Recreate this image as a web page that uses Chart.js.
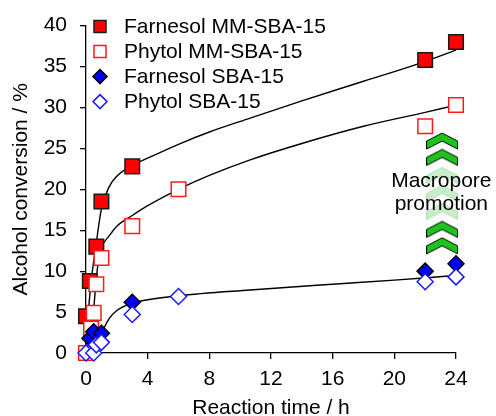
<!DOCTYPE html>
<html lang="en">
<head>
<meta charset="UTF-8">
<title>Alcohol conversion</title>
<script src="https://cdn.jsdelivr.net/npm/chart.js"></script>
<style>html, body { margin: 0; background: #fff; }</style>
</head>
<body>
<canvas id="chart_conv" width="496" height="416"></canvas>
<script>
// measured points: reaction time (h) / conversion (%)
const farnesolMMTime = [0, 0.25, 0.67, 1, 3, 22, 24];
const farnesolMMConv = [4.5, 8.8, 13.0, 18.5, 22.8, 35.8, 38.0];
const phytolMMTime = [0, 0.33, 0.5, 0.67, 1, 3, 6, 22, 24];
const phytolMMConv = [0, 3.0, 4.9, 8.4, 11.6, 15.5, 20.0, 27.7, 30.3];
const farnesolSBATime = [0.25, 0.5, 1, 3, 22, 24];
const farnesolSBAConv = [1.8, 2.6, 2.4, 6.2, 10.0, 10.9];
const phytolSBATime = [0, 0.5, 0.67, 1, 3, 6, 22, 24];
const phytolSBAConv = [0, 0, 1.0, 1.3, 4.7, 6.9, 8.7, 9.3];

// fitted trend lines
const fitMMFarnesolTime = [0, 0.15, 0.35, 0.67, 1, 1.5, 2, 3, 4, 6, 8, 10.65, 14, 18, 21.5, 24];
const fitMMFarnesolConv = [1.0, 5.0, 9.0, 13.5, 17.6, 20.3, 21.6, 22.9, 23.8, 25.5, 27.0, 28.7, 30.8, 33.2, 35.3, 37.0];
const fitMMPhytolTime = [0.4, 0.55, 0.75, 1, 1.5, 2, 3, 4, 6, 8, 10.65, 14, 18, 22, 23.6];
const fitMMPhytolConv = [3.0, 6.5, 10.5, 12.8, 14.3, 15.5, 16.8, 18.0, 20.0, 21.7, 23.6, 25.6, 27.7, 29.4, 30.1];
const fitSBATime = [0.7, 1, 1.5, 2, 3, 4, 6, 10.65, 16, 20, 23.5];
const fitSBAConv = [1.8, 2.5, 4.2, 5.2, 6.1, 6.5, 7.0, 7.7, 8.4, 8.9, 9.4];

// "macropore promotion" chevrons
const arrowTime = 23.1;
const arrowLevels = [25.9, 23.9, 21.7, 19.5, 17.3, 15.1, 13.1];
const arrowShade = ['dark', 'dark', 'light', 'light', 'light', 'dark', 'dark'];
const noteLines = ['Macropore', 'promotion'];
const noteLevels = [21.0, 18.2];

const xTicks = [0, 4, 8, 12, 16, 20, 24];
const yTicks = [0, 5, 10, 15, 20, 25, 30, 35, 40];

const pts = (xs, ys) => xs.map((x, i) => ({x: x, y: ys[i]}));

function chevron(fill, stroke) {
    const c = document.createElement('canvas');
    c.width = 32; c.height = 18;
    const g = c.getContext('2d');
    g.beginPath();
    g.moveTo(0.5, 9); g.lineTo(16, 1); g.lineTo(31.5, 9);
    g.lineTo(31.5, 17); g.lineTo(16, 9); g.lineTo(0.5, 17);
    g.closePath();
    g.fillStyle = fill; g.fill();
    g.strokeStyle = stroke; g.lineWidth = 1; g.stroke();
    return c;
}
const darkArrow = chevron('#1ec41e', '#000');
const lightArrow = chevron('#c8eec8', '#b8dcb8');

const fitLine = (xs, ys) => ({
    data: pts(xs, ys), showLine: true, pointRadius: 0, borderColor: '#000',
    borderWidth: 1.4, cubicInterpolationMode: 'monotone', order: 10, fill: false
});

const markers = [
    {label: 'Farnesol MM-SBA-15', style: 'rect', fill: '#ff0000', edge: '#1a1a1a'},
    {label: 'Phytol MM-SBA-15', style: 'rect', fill: '#ffffff', edge: '#ff1a1a'},
    {label: 'Farnesol SBA-15', style: 'rectRot', fill: '#0000ff', edge: '#000000'},
    {label: 'Phytol SBA-15', style: 'rectRot', fill: '#ffffff', edge: '#1a1aff'}
];

const insideLegend = {
    id: 'insideLegend',
    afterDraw(chart) {
        const ctx = chart.ctx, area = chart.chartArea;
        ctx.save();
        ctx.font = "21px 'Liberation Sans', Arial, sans-serif";
        ctx.textBaseline = 'middle';
        markers.forEach((m, i) => {
            const cx = area.left + 14, cy = area.top + 1 + i * 25;
            ctx.beginPath();
            if (m.style === 'rect') {
                ctx.rect(cx - 6, cy - 6, 12, 12);
            } else {
                ctx.moveTo(cx, cy - 7); ctx.lineTo(cx + 7, cy);
                ctx.lineTo(cx, cy + 7); ctx.lineTo(cx - 7, cy);
                ctx.closePath();
            }
            ctx.fillStyle = m.fill; ctx.fill();
            ctx.strokeStyle = m.edge; ctx.lineWidth = 1.5; ctx.stroke();
            ctx.fillStyle = '#000';
            ctx.fillText(m.label, area.left + 38, cy + 1);
        });
        // note next to the chevrons
        ctx.textAlign = 'center';
        const xs = chart.scales.x, ys = chart.scales.y;
        noteLines.forEach((t, i) => {
            ctx.fillText(t, xs.getPixelForValue(arrowTime - 0.05), ys.getPixelForValue(noteLevels[i]));
        });
        ctx.restore();
    }
};

const series = [
    [farnesolMMTime, farnesolMMConv, 4],
    [phytolMMTime, phytolMMConv, 3],
    [farnesolSBATime, farnesolSBAConv, 2],
    [phytolSBATime, phytolSBAConv, 1]
];

const datasets = series.map((s, i) => ({
    label: markers[i].label,
    data: pts(s[0], s[1]),
    pointStyle: markers[i].style,
    pointRadius: markers[i].style === 'rect' ? 10.3 : 8,
    pointBackgroundColor: markers[i].fill,
    pointBorderColor: markers[i].edge,
    pointBorderWidth: 1.5,
    showLine: false,
    order: s[2]
}));
datasets.push({
    label: 'arrows',
    data: arrowLevels.map(v => ({x: arrowTime, y: v})),
    pointStyle: arrowShade.map(s => s === 'dark' ? darkArrow : lightArrow),
    showLine: false, order: 5
});
datasets.push(fitLine(fitMMFarnesolTime, fitMMFarnesolConv));
datasets.push(fitLine(fitMMPhytolTime, fitMMPhytolConv));
datasets.push(fitLine(fitSBATime, fitSBAConv));

Chart.defaults.font.family = "'Liberation Sans', Arial, sans-serif";
Chart.defaults.font.size = 21;
Chart.defaults.color = '#000';

const axisGrid = {drawOnChartArea: false, drawTicks: true, tickLength: 6, color: '#000', lineWidth: 1.3};
const axisBorder = {display: true, color: '#000', width: 1.3};

new Chart(document.getElementById('chart_conv').getContext('2d'), {
    type: 'scatter',
    data: {datasets: datasets},
    options: {
        responsive: false,
        animation: false,
        clip: false,
        layout: {padding: {left: 0, top: 22, right: 40, bottom: 0}},
        plugins: {legend: {display: false}, tooltip: {enabled: false}},
        scales: {
            x: {
                type: 'linear', min: 0, max: 24,
                grid: axisGrid, border: axisBorder,
                afterBuildTicks: ax => { ax.ticks = xTicks.map(v => ({value: v})); },
                ticks: {padding: 8, maxRotation: 0},
                title: {display: true, text: 'Reaction time / h', padding: {top: 0, bottom: -5}},
                afterFit: ax => { ax.height = 63; }
            },
            y: {
                type: 'linear', min: 0, max: 40,
                grid: axisGrid, border: axisBorder,
                afterBuildTicks: ax => { ax.ticks = yTicks.map(v => ({value: v})); },
                ticks: {padding: 13},
                title: {display: true, text: 'Alcohol conversion / %', padding: {top: 9, bottom: 0}},
                afterFit: ax => { ax.width = 86; }
            }
        }
    },
    plugins: [insideLegend]
});
</script>
</body>
</html>
